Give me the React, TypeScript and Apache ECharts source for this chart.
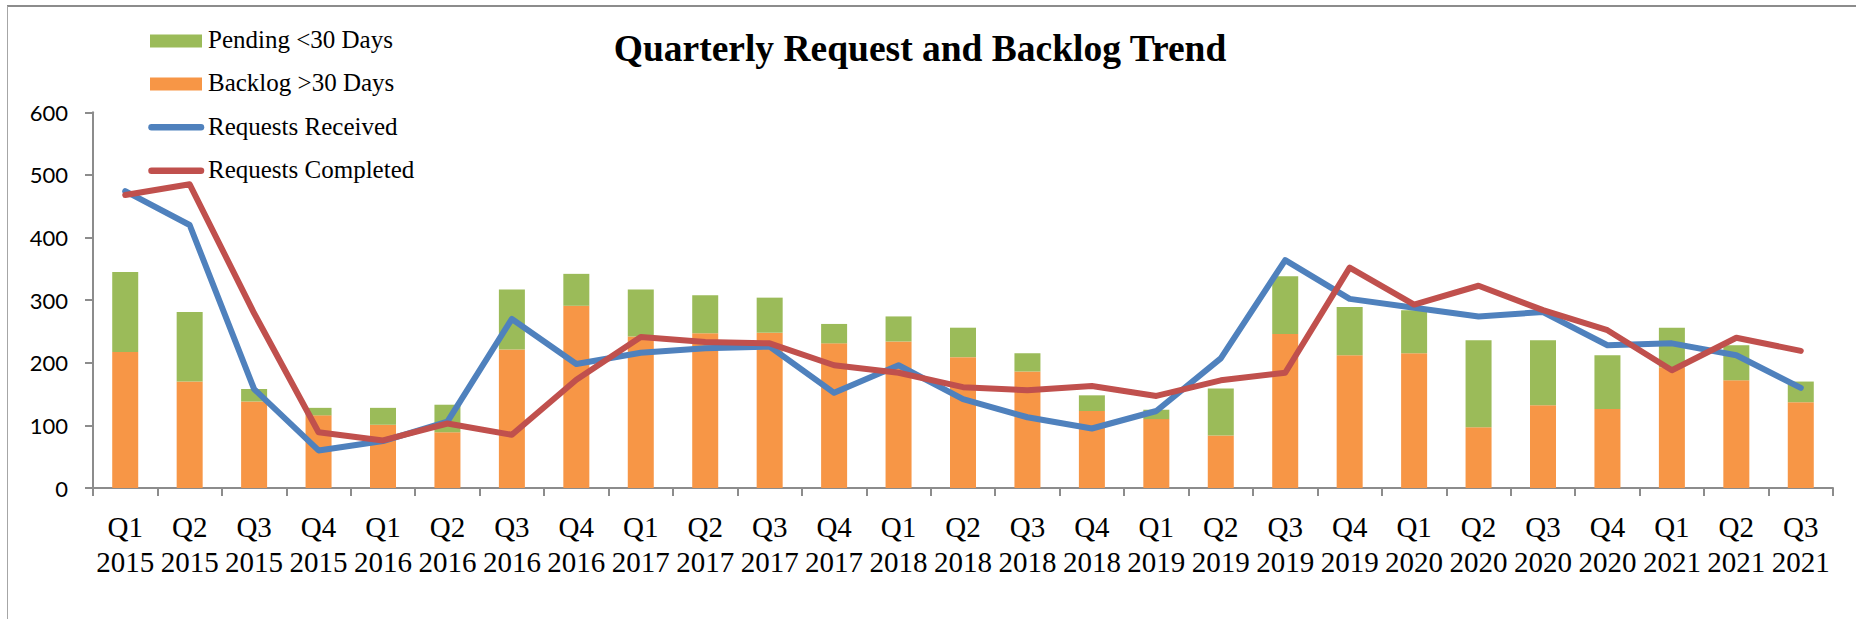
import React, { useEffect, useRef } from "react";
import * as echarts from "echarts";

const quarters = [
  "Q1\n2015", "Q2\n2015", "Q3\n2015", "Q4\n2015",
  "Q1\n2016", "Q2\n2016", "Q3\n2016", "Q4\n2016",
  "Q1\n2017", "Q2\n2017", "Q3\n2017", "Q4\n2017",
  "Q1\n2018", "Q2\n2018", "Q3\n2018", "Q4\n2018",
  "Q1\n2019", "Q2\n2019", "Q3\n2019", "Q4\n2019",
  "Q1\n2020", "Q2\n2020", "Q3\n2020", "Q4\n2020",
  "Q1\n2021", "Q2\n2021", "Q3\n2021",
];

const backlogOver30 = [217, 170, 138, 116, 101, 89, 221, 291, 242, 247, 248, 231, 234, 209, 186, 123, 110, 84, 246, 212, 215, 97, 132, 126, 193, 172, 137];
const pendingUnder30 = [128, 111, 20, 12, 27, 44, 96, 51, 75, 61, 56, 31, 40, 47, 29, 25, 15, 75, 92, 77, 69, 139, 104, 86, 63, 56, 33];
const requestsReceived = [474, 420, 158, 60, 75, 106, 270, 198, 216, 223, 226, 152, 196, 142, 113, 95, 123, 207, 364, 302, 288, 274, 281, 228, 231, 212, 160];
const requestsCompleted = [468, 485, 279, 89, 76, 103, 85, 173, 241, 233, 231, 196, 184, 161, 156, 163, 147, 172, 184, 352, 293, 323, 284, 252, 188, 240, 219];

const yTicks = [0, 100, 200, 300, 400, 500, 600];

const TITLE = "Quarterly Request and Backlog Trend";
const NAMES = ["Pending <30 Days", "Backlog >30 Days", "Requests Received", "Requests Completed"];
const COLORS = ["#9BBB59", "#F79646", "#4F81BD", "#C0504D"];

export default function App() {
  const ref = useRef<HTMLDivElement>(null);

  useEffect(() => {
    if (!ref.current) return;
    const chart = echarts.init(ref.current, null, { renderer: "svg" });
    const serif = "'Liberation Serif', 'Times New Roman', serif";
    const axisColor = "#8c8c8c";

    const legendRows = [41, 84, 127.3, 170.7];
    const legendGraphics: any[] = [];
    NAMES.forEach((name, i) => {
      const cy = legendRows[i];
      if (i < 2) {
        legendGraphics.push({
          type: "rect",
          shape: { x: 150, y: cy - 6.5, width: 52, height: 13 },
          style: { fill: COLORS[i] },
        });
      } else {
        legendGraphics.push({
          type: "line",
          shape: { x1: 151.5, y1: cy, x2: 201, y2: cy },
          style: { stroke: COLORS[i], lineWidth: 6.5, lineCap: "round" },
        });
      }
      legendGraphics.push({
        type: "text",
        x: 208,
        y: cy - 1.2,
        style: {
          text: name,
          font: `25px ${serif}`,
          fill: "#000",
          textAlign: "left",
          textVerticalAlign: "middle",
          verticalAlign: "middle",
        },
      });
    });

    chart.setOption({
      animation: false,
      backgroundColor: "#ffffff",
      grid: { left: 93, top: 112.3, width: 1740, height: 375.7, containLabel: false },
      xAxis: {
        type: "category",
        data: quarters,
        boundaryGap: true,
        axisLine: { show: true, lineStyle: { color: axisColor, width: 2 } },
        axisTick: { show: true, length: 8, alignWithLabel: false, lineStyle: { color: axisColor, width: 2 } },
        axisLabel: {
          interval: 0,
          margin: 21,
          color: "#000",
          fontFamily: serif,
          fontSize: 29,
          lineHeight: 35,
        },
        splitLine: { show: false },
      },
      yAxis: {
        type: "value",
        min: yTicks[0],
        max: yTicks[yTicks.length - 1],
        interval: 100,
        axisLine: { show: true, lineStyle: { color: axisColor, width: 2 } },
        axisTick: { show: true, length: 8, lineStyle: { color: axisColor, width: 2 } },
        axisLabel: {
          margin: 25,
          color: "#000",
          fontFamily: "Lato, 'Open Sans', sans-serif",
          fontSize: 22,
        },
        splitLine: { show: false },
      },
      series: [
        {
          name: NAMES[1],
          type: "bar",
          stack: "total",
          data: backlogOver30,
          barWidth: 26,
          itemStyle: { color: COLORS[1] },
        },
        {
          name: NAMES[0],
          type: "bar",
          stack: "total",
          data: pendingUnder30,
          barWidth: 26,
          itemStyle: { color: COLORS[0] },
        },
        {
          name: NAMES[2],
          type: "line",
          data: requestsReceived,
          symbol: "none",
          lineStyle: { color: COLORS[2], width: 6, cap: "round", join: "round" },
          itemStyle: { color: COLORS[2] },
        },
        {
          name: NAMES[3],
          type: "line",
          data: requestsCompleted,
          symbol: "none",
          lineStyle: { color: COLORS[3], width: 6, cap: "round", join: "round" },
          itemStyle: { color: COLORS[3] },
        },
      ],
      graphic: [
        {
          type: "line",
          shape: { x1: 7, y1: 6, x2: 1856, y2: 6 },
          style: { stroke: "#8c8c8c", lineWidth: 2 },
          silent: true,
        },
        {
          type: "line",
          shape: { x1: 7.5, y1: 6, x2: 7.5, y2: 619 },
          style: { stroke: "#a6a6a6", lineWidth: 1 },
          silent: true,
        },
        {
          type: "text",
          x: 920,
          y: 48.2,
          style: {
            text: TITLE,
            font: `bold 37.5px ${serif}`,
            fill: "#000",
            textAlign: "center",
            textVerticalAlign: "middle",
            verticalAlign: "middle",
          },
        },
        ...legendGraphics,
      ],
    });

    return () => chart.dispose();
  }, []);

  return (
    <div
      ref={ref}
      style={{ position: "absolute", left: 0, top: 0, width: 1856, height: 619 }}
    />
  );
}
